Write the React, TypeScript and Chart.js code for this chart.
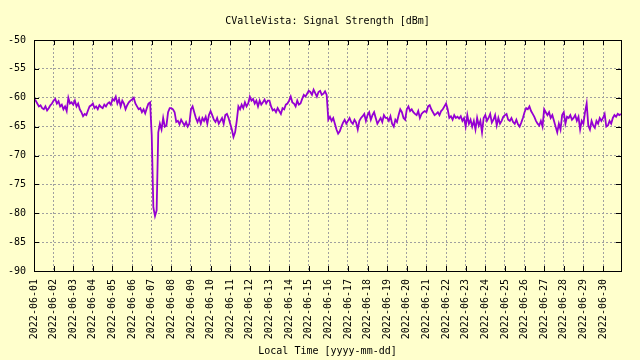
import React, { useEffect, useRef } from "react";
import { Chart, registerables } from "chart.js";

Chart.register(...registerables);

const chartTitle = "CValleVista: Signal Strength [dBm]";
const xAxisTitle = "Local Time [yyyy-mm-dd]";

const dateLabels = [
  "2022-06-01", "2022-06-02", "2022-06-03", "2022-06-04", "2022-06-05",
  "2022-06-06", "2022-06-07", "2022-06-08", "2022-06-09", "2022-06-10",
  "2022-06-11", "2022-06-12", "2022-06-13", "2022-06-14", "2022-06-15",
  "2022-06-16", "2022-06-17", "2022-06-18", "2022-06-19", "2022-06-20",
  "2022-06-21", "2022-06-22", "2022-06-23", "2022-06-24", "2022-06-25",
  "2022-06-26", "2022-06-27", "2022-06-28", "2022-06-29", "2022-06-30",
];

const yTicks = [-90, -85, -80, -75, -70, -65, -60, -55, -50];

// samples every 2 hours starting 2022-06-01 00:00
const sampleHours = 2;

const week1 = [
  -60.2, -60.5, -61.0, -61.5, -61.3, -61.8, -62.0, -61.5, -62.2, -61.8, -61.3, -61.0,
  -60.5, -60.2, -61.0, -60.6, -61.5, -61.2, -62.0, -61.5, -62.3, -60.0, -61.0, -60.8,
  -61.2, -60.5, -61.5, -61.0, -62.0, -62.5, -63.2, -62.8, -63.0, -62.2, -61.5, -61.3,
  -61.0, -61.8, -61.5, -62.0, -61.3, -61.6, -61.8, -61.2, -61.5, -61.0, -60.8, -61.2,
  -60.2, -60.5, -59.8, -61.0, -60.3, -61.5, -60.5, -61.0, -62.0, -61.3, -60.8, -60.5,
  -60.3, -60.0, -61.0, -61.5, -62.0, -61.8, -62.5, -62.0, -62.7, -61.8, -61.0, -60.8,
  -66.5, -79.0, -80.5, -79.5, -66.0, -64.5, -65.5, -63.5, -65.0, -64.8, -62.5, -61.8,
];

const week2 = [
  -61.8, -62.0, -62.5, -64.2, -64.0, -64.6, -63.8, -64.3, -64.8, -64.2, -65.0, -64.5,
  -62.0, -61.5, -62.5, -63.5, -64.2, -63.5, -64.5, -63.5, -64.0, -63.3, -64.5, -63.0,
  -62.3, -63.0, -63.8, -64.2, -63.5, -64.5, -64.0, -63.5, -64.5, -63.0, -62.8, -63.5,
  -64.5, -65.5, -66.8, -66.0, -64.0, -61.5, -62.0, -61.2, -61.8, -60.8, -61.5, -61.0,
  -59.8, -60.5, -60.2, -61.0, -60.5, -61.5, -60.5, -61.2, -60.8, -60.3, -61.0, -60.5,
  -60.5, -61.5, -62.2, -62.0, -62.5, -61.8, -62.3, -62.8, -61.8, -62.0, -61.2, -61.0,
  -60.5, -59.8, -60.8, -61.0, -61.5, -60.5, -61.2, -61.0, -60.2, -59.5, -59.8, -59.3,
];

const week3 = [
  -58.8, -59.0, -59.5, -58.6, -59.2, -59.8, -59.0, -58.8, -59.5, -59.3, -58.9, -59.5,
  -63.8, -63.3, -64.0, -63.5, -64.5, -65.5, -66.2, -65.8, -65.0, -64.3, -63.8, -64.5,
  -64.0, -63.5, -64.2, -64.5, -63.8, -64.3, -65.5, -64.0, -63.5, -63.2, -62.8, -64.0,
  -63.0, -62.5, -63.8, -63.0, -62.5, -63.5, -64.5, -64.0, -63.5, -64.2, -63.0, -63.5,
  -63.5, -64.0, -63.2, -64.5, -65.0, -63.8, -64.2, -63.0, -62.0, -62.5, -63.5, -63.8,
  -62.0, -61.5, -62.3, -62.0, -62.5, -62.8, -63.0, -62.3, -63.5, -62.8, -62.5, -62.3,
  -62.5, -61.5, -61.3, -62.0, -62.5, -63.0, -62.8, -62.5, -63.0, -62.3, -62.0, -61.5,
];

const week4 = [
  -61.0, -62.0, -63.5, -63.2, -63.8, -63.0, -63.5, -63.3, -63.6, -63.2, -64.0, -63.5,
  -65.0, -63.0, -64.5, -63.8, -65.0, -64.0, -65.5, -63.5, -64.8, -64.0, -66.0, -63.5,
  -63.0, -64.0, -63.5, -62.8, -64.3, -63.8, -63.0, -64.8, -63.5, -64.5, -64.0, -63.3,
  -63.0, -62.8, -63.8, -64.0, -63.5, -64.2, -64.5, -63.8, -64.6, -65.0, -64.3, -63.5,
  -62.5, -61.8, -62.0, -61.5, -62.3, -62.8, -63.3, -64.0, -64.5, -64.8, -64.0, -65.0,
  -62.0, -62.5, -63.0, -62.5, -63.5, -63.0, -64.0, -65.0, -66.0, -64.5, -65.5, -63.0,
  -62.5, -64.5, -63.3, -63.5, -63.0, -63.8, -63.5, -63.0, -64.0, -63.3, -65.5, -64.0,
  -64.5, -62.5, -61.0, -64.8, -65.5, -64.0, -64.8, -65.2, -64.0, -64.5, -63.5, -64.0,
  -63.5, -62.8, -65.0, -64.8, -64.0, -64.5, -63.5, -63.0, -63.3, -62.8, -63.0, -62.8,
];

const FONT = "'DejaVu Sans Mono', 'Liberation Mono', monospace";
const BG = "#ffffcc";
const LINE = "#9400d3";
const GRID = "#a0a0a0";

const bgPlugin = {
  id: "bg",
  beforeDraw(chart: any) {
    const { ctx } = chart;
    ctx.save();
    ctx.fillStyle = BG;
    ctx.fillRect(0, 0, chart.width, chart.height);
    ctx.restore();
  },
};

const framePlugin = {
  id: "frameAndTicks",
  afterDatasetsDraw(chart: any) {
    const { ctx, chartArea } = chart;
    const { left, right, top, bottom } = chartArea;
    const xs = chart.scales.x;
    const ys = chart.scales.y;
    ctx.save();
    ctx.strokeStyle = "#000";
    ctx.lineWidth = 1;
    ctx.beginPath();
    const L = 5;
    ys.ticks.forEach((t: any) => {
      const y = Math.round(ys.getPixelForValue(t.value)) + 0.5;
      ctx.moveTo(left, y);
      ctx.lineTo(left + L, y);
      ctx.moveTo(right, y);
      ctx.lineTo(right - L, y);
    });
    xs.ticks.forEach((t: any) => {
      const x = Math.round(xs.getPixelForValue(t.value)) + 0.5;
      ctx.moveTo(x, bottom);
      ctx.lineTo(x, bottom - L);
      ctx.moveTo(x, top);
      ctx.lineTo(x, top + L);
    });
    ctx.stroke();
    ctx.strokeRect(Math.round(left) + 0.5, Math.round(top) + 0.5, Math.round(right - left), Math.round(bottom - top));
    ctx.fillStyle = "#000";
    ctx.font = "10px " + FONT;
    ctx.textAlign = "center";
    ctx.textBaseline = "middle";
    ctx.fillText(chartTitle, (left + right) / 2, 21);
    ctx.restore();
  },
};

export default function App() {
  const ref = useRef<HTMLCanvasElement | null>(null);
  useEffect(() => {
    if (!ref.current) return;
    const values = [...week1, ...week2, ...week3, ...week4];
    const points = values.map((v, i) => ({ x: (i * sampleHours) / 24, y: v }));
    const xMax = points[points.length - 1].x;
    const chart = new Chart(ref.current, {
      type: "line",
      data: {
        datasets: [
          {
            data: points,
            borderColor: LINE,
            borderWidth: 1.8,
            pointRadius: 0,
            tension: 0,
            fill: false,
          },
        ],
      },
      options: {
        animation: false,
        responsive: false,
        devicePixelRatio: 1,
        layout: { padding: { top: 40, right: 19, left: 0, bottom: 0 } },
        plugins: { legend: { display: false }, title: { display: false }, tooltip: { enabled: false } },
        scales: {
          x: {
            type: "linear",
            min: 0,
            max: xMax,
            afterFit(scale: any) {
              scale.height = 89;
            },
            afterBuildTicks(scale: any) {
              scale.ticks = dateLabels.map((_, i) => ({ value: i }));
            },
            grid: { color: GRID, lineWidth: 1, drawTicks: false },
            border: { display: false, dash: [2, 2] },
            ticks: {
              autoSkip: false,
              maxRotation: 90,
              minRotation: 90,
              padding: 8,
              color: "#000",
              font: { family: FONT, size: 10 },
              callback: (v: any) => dateLabels[Math.round(Number(v))] ?? "",
            },
            title: {
              display: true,
              text: xAxisTitle,
              color: "#000",
              font: { family: FONT, size: 10 },
              padding: { top: 0, bottom: 3 },
            },
          },
          y: {
            type: "linear",
            min: -90,
            max: -50,
            afterFit(scale: any) {
              scale.width = 34;
            },
            afterBuildTicks(scale: any) {
              scale.ticks = yTicks.map((v) => ({ value: v }));
            },
            grid: { color: GRID, lineWidth: 1, drawTicks: false },
            border: { display: false, dash: [2, 2] },
            ticks: {
              padding: 8,
              color: "#000",
              font: { family: FONT, size: 10 },
              callback: (v: any) => String(v),
            },
          },
        },
      } as any,
      plugins: [bgPlugin, framePlugin],
    });
    return () => chart.destroy();
  }, []);
  return (
    <div style={{ position: "fixed", left: 0, top: 0, width: 640, height: 360, background: BG }}>
      <canvas ref={ref} width={640} height={360} style={{ display: "block" }} />
    </div>
  );
}
